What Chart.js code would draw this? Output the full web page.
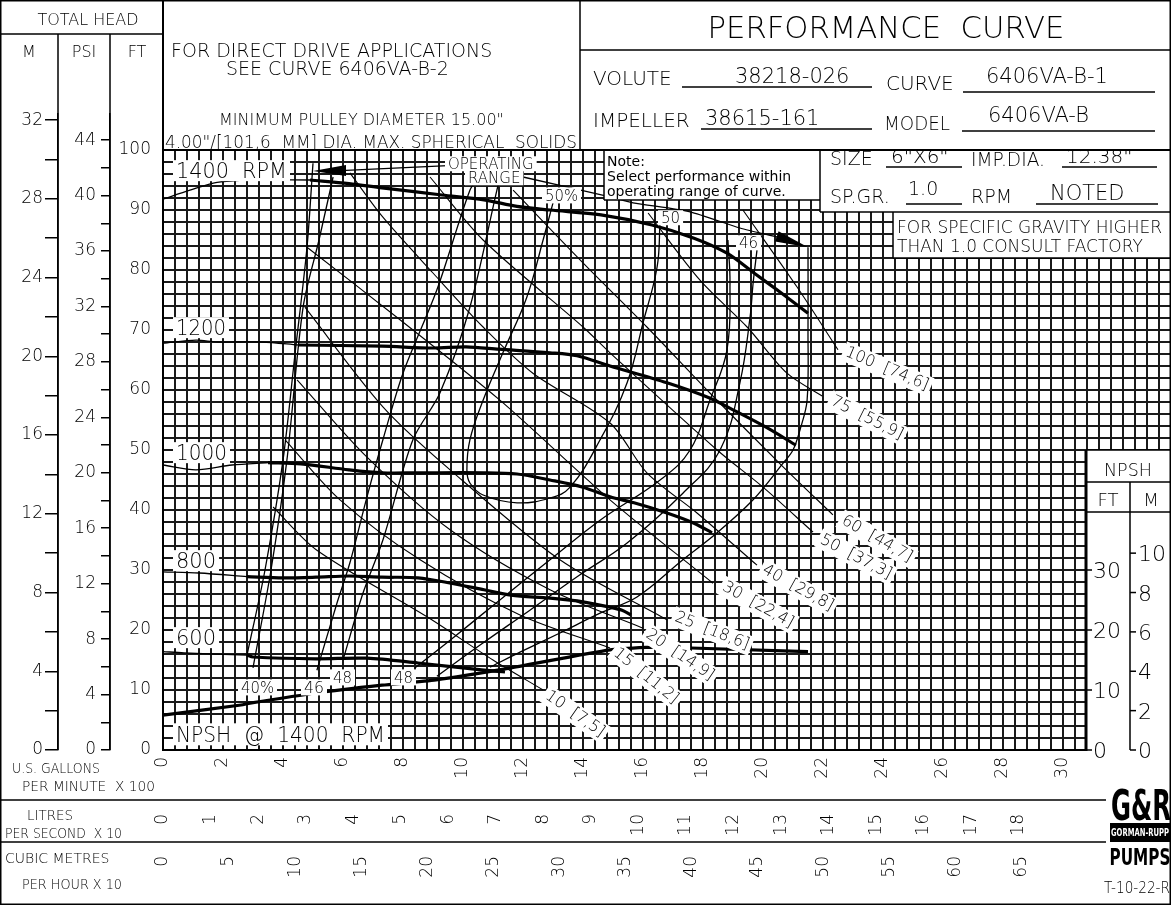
<!DOCTYPE html>
<html>
<head>
<meta charset="utf-8">
<script src="https://cdn.jsdelivr.net/npm/chart.js@4.4.1/dist/chart.umd.min.js"></script>
<style>
  html, body { margin: 0; padding: 0; background: #fff; }
  #wrap { width: 1171px; height: 905px; position: relative; }
</style>
</head>
<body>
<div id="wrap"><canvas id="curva"></canvas></div>
<script>
// flow in hundreds of US gpm, head in feet
var QMAX = 33.6;
var HMAX = 106;

// head curves per speed
var q1400 = [0, 0.9, 1.8, 2.9, 4.9, 6.2, 7.3, 9.3, 10.7, 11.8, 12.9, 14.6, 16.3, 17.7, 18.8, 19.7, 20.6, 21.5];
var h1400 = [91.8, 93.3, 94.6, 95.0, 95.0, 94.4, 93.7, 92.5, 91.7, 90.6, 90.0, 89.2, 87.5, 85.3, 82.8, 79.5, 76.2, 72.8];
var q1200 = [0, 1.1, 1.8, 3.3, 4.5, 7.3, 9.0, 10.1, 11.2, 12.9, 13.8, 14.9, 16.8, 18.2, 19.0, 20.1, 21.1];
var h1200 = [67.8, 68.3, 68.0, 68.0, 67.5, 67.3, 67.0, 67.2, 66.8, 66.2, 65.7, 64.0, 61.2, 58.7, 56.7, 53.8, 50.8];
var q1000 = [0, 1.1, 2.3, 3.5, 4.6, 6.2, 7.3, 8.5, 10.7, 11.8, 12.9, 14.0, 14.9, 15.7, 16.8, 17.7, 18.3];
var h1000 = [47.5, 46.7, 47.5, 47.9, 47.7, 46.7, 46.2, 46.2, 46.2, 46.0, 45.0, 43.8, 42.2, 41.2, 39.5, 37.8, 36.2];
var q800 = [0, 1.2, 2.8, 4.0, 5.1, 6.2, 7.3, 8.5, 9.6, 10.7, 11.6, 12.9, 14.0, 14.9, 15.3, 15.6];
var h800 = [29.7, 29.5, 28.9, 28.7, 28.8, 29.0, 28.8, 28.7, 27.8, 26.7, 25.8, 25.3, 24.7, 23.8, 23.3, 22.5];
var q600 = [0, 0.7, 2.8, 3.0, 5.1, 6.8, 8.5, 10.7, 11.4];
var h600 = [16.4, 16.2, 15.8, 15.5, 15.2, 15.3, 14.5, 13.3, 13.0];

// NPSH at 1400 rpm (ft)
var qNpsh = [0, 2.6, 2.9, 5.1, 7.3, 9.1, 11.6, 14.9, 16.5];
var hNpsh = [5.8, 7.5, 7.8, 9.5, 10.8, 11.7, 13.7, 16.7, 17.2];
var qNpsh2 = [17.6, 21.5];
var hNpsh2 = [17.0, 16.4];

// efficiency contours
var qOpLeft = [5.0, 4.8, 4.4, 4.0, 3.4, 2.8];
var hOpLeft = [97.8, 83.8, 66.0, 48.3, 30.0, 15.8];
var qE40 = [5.67, 5.2, 4.67, 4.13, 3.6, 3.0];
var hE40 = [95.5, 85.0, 73.8, 48.3, 30.0, 13.7];
var qE46L = [5.13, 5.8, 6.23, 6.8, 7.33, 8.0, 9.13, 10.23, 10.57];
var hE46L = [13.3, 24.5, 31.2, 42.2, 51.7, 62.8, 76.7, 93.3, 95.8];
var qE48L = [6.0, 6.67, 7.33, 8.33, 9.23, 10.23, 11.13, 11.23];
var hE48L = [15.0, 26.2, 35.0, 51.7, 59.5, 73.8, 93.3, 95.3];
var qE50 = [13.0, 12.67, 12.13, 11.33, 10.67, 10.23, 10.13, 10.23, 10.67, 11.8, 12.9, 13.57, 14.57, 15.47, 16.0, 16.47, 16.57];
var hE50 = [91.2, 85.0, 75.5, 66.2, 58.3, 51.7, 46.7, 44.5, 42.5, 41.2, 42.0, 43.8, 51.7, 61.2, 71.2, 80.5, 88.3];
var qE48R = [18.83, 18.9, 18.8, 18.23, 17.57, 16.57, 14.57, 12.9, 11.23, 9.57, 8.4];
var hE48R = [85.0, 77.8, 66.7, 58.3, 50.0, 45.0, 38.3, 31.7, 25.0, 18.3, 13.7];
var qE46R = [19.8, 19.67, 19.57, 19.23, 18.57, 17.33, 15.47, 13.9, 12.23, 10.57, 9.13];
var hE46R = [83.3, 77.8, 72.2, 61.2, 50.0, 42.8, 34.5, 29.2, 23.3, 17.5, 12.3];
var qOpRight = [21.5, 21.5, 21.47, 21.23, 21.0, 20.67, 19.67, 18.47, 17.33, 15.8, 14.57, 13.23, 11.9, 10.9];
var hOpRight = [83.8, 70.0, 58.3, 53.3, 50.0, 47.8, 41.7, 36.2, 31.7, 25.5, 22.8, 19.5, 16.3, 13.8];

// operating range leader lines
var qOpTopL = [9.5, 6.1];
var hOpTopL = [97.4, 96.6];
var qOpTopR = [12.0, 14.9, 15.67, 17.57, 19.23, 20.47];
var hOpTopR = [95.5, 92.2, 91.2, 89.7, 87.0, 85.5];

// power lines (hp)
var qHp100 = [19.33, 21.13, 22.5];
var hHp100 = [90.0, 77.2, 66.7];
var qHp75 = [16.17, 17.9, 19.47, 20.8, 21.97];
var hHp75 = [89.5, 78.3, 70.5, 62.8, 59.0];
var qHp60 = [11.67, 14.0, 16.13, 18.23, 20.67, 22.33];
var hHp60 = [93.3, 81.2, 70.5, 59.5, 47.2, 39.2];
var qHp50 = [8.9, 10.67, 14.0, 14.9, 18.47, 20.0, 21.67];
var hHp50 = [95.5, 85.0, 70.5, 66.2, 50.0, 43.8, 36.3];
var qHp40 = [6.23, 7.33, 9.0, 10.67, 12.33, 14.9, 16.13, 17.8, 19.8];
var hHp40 = [96.2, 88.8, 79.5, 70.5, 62.8, 54.5, 46.2, 39.5, 30.8];
var qHp30 = [4.8, 7.9, 11.23, 14.9, 18.33];
var hHp30 = [83.8, 71.7, 58.3, 41.7, 27.8];
var qHp25 = [4.73, 7.33, 9.57, 13.23, 16.8];
var hHp25 = [73.8, 57.2, 46.7, 31.7, 21.7];
var qHp20 = [4.47, 6.8, 9.57, 12.9, 16.0];
var hHp20 = [61.7, 48.8, 36.7, 26.7, 20.3];
var qHp15 = [4.07, 5.9, 8.57, 11.9, 14.9];
var hHp15 = [51.7, 41.7, 31.7, 22.5, 17.0];
var qHp10 = [3.67, 5.13, 8.8, 11.0, 12.67];
var hHp10 = [40.5, 33.3, 22.2, 15.0, 10.0];

// tick labels
var gpmLabels = [0, 2, 4, 6, 8, 10, 12, 14, 16, 18, 20, 22, 24, 26, 28, 30];
var lpsLabels = [0, 1, 2, 3, 4, 5, 6, 7, 8, 9, 10, 11, 12, 13, 14, 15, 16, 17, 18];
var cmhLabels = [0, 5, 10, 15, 20, 25, 30, 35, 40, 45, 50, 55, 60, 65];
var ftLabels = [0, 10, 20, 30, 40, 50, 60, 70, 80, 90, 100];
var psiLabels = [0, 4, 8, 12, 16, 20, 24, 28, 32, 36, 40, 44];
var mLabels = [0, 4, 8, 12, 16, 20, 24, 28, 32];
var npshFtLabels = [0, 10, 20, 30];
var npshMLabels = [0, 2, 4, 6, 8, 10];

var FONTE = "'DejaVu Sans', sans-serif";
var GROSSA = 3.2, FINA = 1.3;

Chart.defaults.font.family = FONTE;
Chart.defaults.font.weight = 200;
Chart.defaults.color = '#000';

function pts(q, h) {
  var a = [];
  for (var i = 0; i < q.length; i++) a.push({ x: q[i], y: h[i] });
  return a;
}
function linha(q, h, w, t) {
  return {
    data: pts(q, h), showLine: true, borderColor: '#000', borderWidth: w,
    pointRadius: 0, tension: (t === undefined ? 0.3 : t), fill: false
  };
}
// thin part up to index k, heavy part from k on
function rotacao(q, h, k) {
  return [
    linha(q.slice(0, k + 1), h.slice(0, k + 1), FINA),
    linha(q.slice(k), h.slice(k), GROSSA)
  ];
}
function rotulos(lista) {
  return function(v) {
    for (var i = 0; i < lista.length; i++) {
      if (Math.abs(lista[i] - v) < 1e-6) return String(lista[i]);
    }
    return '';
  };
}
// keep the plot area at fixed edges (no label overhang padding)
function semSobraX(h) {
  return function(s) { s.height = h; s.paddingLeft = 0; s.paddingRight = 0; };
}
function semSobraY(w) {
  return function(s) { s.width = w; s.paddingTop = 0; s.paddingBottom = 0; };
}

var conjuntos = []
  .concat(rotacao(q1400, h1400, 4))
  .concat(rotacao(q1200, h1200, 4))
  .concat(rotacao(q1000, h1000, 3))
  .concat(rotacao(q800, h800, 2))
  .concat(rotacao(q600, h600, 2))
  .concat([
    linha(qNpsh, hNpsh, GROSSA, 0.2),
    linha(qNpsh2, hNpsh2, GROSSA, 0),
    linha(qOpLeft, hOpLeft, FINA),
    linha(qE40, hE40, FINA),
    linha(qE46L, hE46L, FINA),
    linha(qE48L, hE48L, FINA),
    linha(qE50, hE50, FINA, 0.4),
    linha(qE48R, hE48R, FINA, 0.4),
    linha(qE46R, hE46R, FINA, 0.4),
    linha(qOpRight, hOpRight, FINA, 0.35),
    linha(qOpTopL, hOpTopL, FINA, 0),
    linha(qOpTopR, hOpTopR, FINA, 0.2),
    linha(qHp100, hHp100, 1.1),
    linha(qHp75, hHp75, 1.1),
    linha(qHp60, hHp60, 1.1),
    linha(qHp50, hHp50, 1.1),
    linha(qHp40, hHp40, 1.1),
    linha(qHp30, hHp30, 1.1),
    linha(qHp25, hHp25, 1.1),
    linha(qHp20, hHp20, 1.1),
    linha(qHp15, hHp15, 1.1),
    linha(qHp10, hHp10, 1.1)
  ]);

// drawing sheet: title block, boxes, labels
var folha = {
  id: 'folha',
  afterDraw: function(chart) {
    var c = chart.ctx;
    var sx = chart.scales.x, sy = chart.scales.y;
    function px(q) { return sx.getPixelForValue(q); }
    function py(h) { return sy.getPixelForValue(h); }
    function L(x1, y1, x2, y2, w) {
      c.lineWidth = w || 1.5;
      c.beginPath(); c.moveTo(x1, y1); c.lineTo(x2, y2); c.stroke();
    }
    function fonte(size, w) { c.font = (w || 200) + ' ' + size + 'px ' + FONTE; }
    function T(s, x, y, size, al, mw, w) {
      fonte(size, w);
      c.textAlign = al || 'left';
      c.textBaseline = 'alphabetic';
      if (mw) c.fillText(s, x, y, mw); else c.fillText(s, x, y);
    }
    // label knocked out of the grid
    function K(s, x, y, size, mw) {
      fonte(size);
      var w = c.measureText(s).width;
      if (mw && w > mw) w = mw;
      c.fillStyle = '#fff';
      c.fillRect(x - 3, y - size * 0.85, w + 6, size * 1.0);
      c.fillStyle = '#000';
      T(s, x, y, size, 'left', mw);
    }
    function R(s, cx, cy, ang, size, mw) {
      c.save();
      c.translate(cx, cy);
      c.rotate(ang * Math.PI / 180);
      fonte(size);
      var w = Math.min(c.measureText(s).width, mw);
      c.fillStyle = '#fff';
      c.fillRect(-w / 2 - 3, -size * 0.62, w + 6, size * 1.24);
      c.fillStyle = '#000';
      c.textAlign = 'center';
      c.textBaseline = 'middle';
      c.fillText(s, 0, 0, mw);
      c.restore();
    }

    c.save();
    c.strokeStyle = '#000';
    c.fillStyle = '#fff';
    c.fillRect(164, 0, 1007, 149);
    c.fillRect(604, 149, 216, 51);
    c.fillRect(820, 149, 351, 63);
    c.fillRect(893, 212, 278, 46);
    c.fillRect(1087, 450, 84, 301);
    c.fillStyle = '#000';

    // frame
    c.lineWidth = 1.5;
    c.strokeRect(0.75, 0.75, 1169.5, 903.5);
    L(0, 34, 163, 34);
    L(58, 34, 58, 750);
    L(110, 34, 110, 750);
    L(163, 0, 163, 750, 2);
    L(580, 0, 580, 150);
    L(580, 50, 1171, 50);
    L(163, 150, 1171, 150, 2);
    L(604, 150, 604, 200); L(604, 200, 820, 200);
    L(820, 150, 820, 212); L(820, 212, 1171, 212);
    L(893, 212, 893, 258); L(893, 258, 1171, 258);
    L(1086, 450, 1086, 751, 3);
    L(1086, 450, 1171, 450);
    L(1086, 482, 1171, 482);
    L(1086, 512, 1171, 512);
    L(1130, 482, 1130, 750);
    L(0, 800, 1106, 800);
    L(0, 842, 1106, 842);

    // head columns
    T('TOTAL HEAD', 88, 25, 16, 'center', 112);
    T('M', 29, 57, 16, 'center');
    T('PSI', 84, 57, 16, 'center');
    T('FT', 137, 57, 16, 'center');

    // notes
    T('FOR DIRECT DRIVE APPLICATIONS', 171, 57, 19, 'left', 381);
    T('SEE CURVE 6406VA-B-2', 226, 75, 19, 'left', 270);
    T('MINIMUM PULLEY DIAMETER 15.00"', 219, 125, 16, 'left', 300);
    T('4.00"/[101,6  MM] DIA. MAX. SPHERICAL  SOLIDS', 165, 148, 17, 'left', 412);

    // title block
    T('PERFORMANCE  CURVE', 886, 38, 31, 'center', 357);
    T('VOLUTE', 593, 85, 20, 'left', 80);
    L(682, 87, 872, 87, 1.3);
    T('38218-026', 735, 83, 21, 'left', 128);
    T('CURVE', 886, 90, 20, 'left', 68);
    L(963, 92, 1155, 92, 1.3);
    T('6406VA-B-1', 986, 83, 21, 'left', 147);
    T('IMPELLER', 593, 127, 20, 'left', 101);
    L(701, 129, 872, 129, 1.3);
    T('38615-161', 705, 125, 21, 'left', 127);
    T('MODEL', 884, 130, 20, 'left', 66);
    L(962, 131, 1155, 131, 1.3);
    T('6406VA-B', 988, 122, 21, 'left', 118);
    T('SIZE', 830, 165, 19, 'left', 44);
    L(886, 167, 962, 167, 1.3);
    T('6"X6"', 891, 163, 20, 'left', 71);
    T('IMP.DIA.', 971, 166, 19, 'left', 74);
    L(1062, 167, 1157, 167, 1.3);
    T('12.38"', 1066, 163, 20, 'left', 78);
    T('SP.GR.', 830, 203, 19, 'left', 75);
    L(906, 204, 962, 204, 1.3);
    T('1.0', 908, 195, 19, 'left', 37);
    T('RPM', 971, 203, 19, 'left', 44);
    L(1036, 204, 1158, 204, 1.3);
    T('NOTED', 1050, 200, 21, 'left', 87);
    T('FOR SPECIFIC GRAVITY HIGHER', 897, 233, 17, 'left', 271);
    T('THAN 1.0 CONSULT FACTORY', 897, 252, 17, 'left', 261);

    T('Note:', 607, 166, 14, 'left', 38, 'normal');
    T('Select performance within', 607, 181, 14, 'left', 208, 'normal');
    T('operating range of curve.', 607, 196, 14, 'left', 210, 'normal');

    // speed and contour labels
    K('1400  RPM', 176, 178, 21, 111);
    K('OPERATING', 448, 169, 15, 95);
    K('RANGE', 468, 183, 15, 55);
    K('50%', 545, 201, 16, 33);
    K('1200', 176, 335, 21, 50);
    K('1000', 176, 460, 21, 51);
    K('800', 176, 568, 21, 41);
    K('600', 176, 645, 21, 41);
    K('50', 661, 223, 15, 20);
    K('46', 739, 248, 15, 20);
    K('40%', 241, 693, 16, 33);
    K('46', 304, 693, 16, 20);
    K('48', 333, 683, 16, 19);
    K('48', 394, 683, 16, 19);
    K('NPSH  @  1400  RPM', 176, 742, 22, 209);

    // horsepower [kW] labels
    R('100  [74,6]', 887, 369, 22.8, 16, 100);
    R('75  [55,9]', 867, 418, 26.6, 16, 88);
    R('60  [44,7]', 877, 539, 29.5, 16, 90);
    R('50  [37,3]', 856, 557, 27.7, 16, 90);
    R('40  [29,8]', 798, 588, 29, 16, 90);
    R('30  [22,4]', 758, 605, 29, 16, 90);
    R('25  [18,6]', 712, 631, 21.5, 16, 86);
    R('20  [14,9]', 680, 655, 34, 16, 86);
    R('15  [11,2]', 646, 676, 39, 16, 82);
    R('10  [7,5]', 575, 714, 35, 16, 78);

    // operating range arrows
    var tx = px(qOpLeft[0]), ty = py(96.5);
    c.beginPath();
    c.moveTo(tx, ty); c.lineTo(tx + 33, ty - 6); c.lineTo(tx + 33, ty + 5); c.closePath(); c.fill();
    var ax = px(qOpRight[0]), ay = py(hOpRight[0]);
    var bx = px(qOpTopR[qOpTopR.length - 1]), by = py(hOpTopR[hOpTopR.length - 1]);
    var an = Math.atan2(ay - by, ax - bx);
    c.save();
    c.translate(ax, ay); c.rotate(an);
    c.beginPath(); c.moveTo(0, 0); c.lineTo(-33, -6); c.lineTo(-33, 5); c.closePath(); c.fill();
    c.restore();

    // NPSH scale
    var i, yy;
    for (i = 0; i < npshFtLabels.length; i++) {
      yy = py(npshFtLabels[i]);
      L(1086, yy, 1092, yy, 1.5);
      T(String(npshFtLabels[i]), 1093, yy + 8, 22, 'left', 30);
    }
    for (i = 0; i < npshMLabels.length; i++) {
      yy = py(npshMLabels[i] / 0.3048);
      L(1130, yy, 1136, yy, 1.5);
      T(String(npshMLabels[i]), 1138, yy + 8, 22, 'left', 31);
    }
    T('NPSH', 1128, 476, 18, 'center', 48);
    T('FT', 1108, 506, 18, 'center');
    T('M', 1151, 506, 18, 'center');

    // flow units
    T('U.S. GALLONS', 12, 773, 14, 'left', 88);
    T('PER MINUTE  X 100', 22, 791, 14, 'left', 133);
    T('LITRES', 27, 820, 14, 'left', 46);
    T('PER SECOND  X 10', 5, 838, 14, 'left', 117);
    T('CUBIC METRES', 5, 863, 14, 'left', 107);
    T('PER HOUR X 10', 22, 889, 14, 'left', 100);

    // maker mark
    T('G&R', 1141, 820, 42, 'center', 60, 'bold');
    c.fillRect(1110, 823, 61, 19);
    c.fillStyle = '#fff';
    T('GORMAN-RUPP', 1140, 836, 10, 'center', 58, 'bold');
    c.fillStyle = '#000';
    T('PUMPS', 1140, 865, 23, 'center', 61, 'bold');
    T('T-10-22-R', 1104, 893, 15, 'left', 66);
    c.restore();
  }
};

var fonteEixo = { family: FONTE, size: 17, weight: 200 };

new Chart(document.getElementById('curva'), {
  type: 'scatter',
  data: { datasets: conjuntos },
  options: {
    responsive: true,
    maintainAspectRatio: false,
    animation: false,
    events: [],
    layout: { padding: { top: 114, left: 0, right: 0, bottom: 0 } },
    plugins: { legend: { display: false }, tooltip: { enabled: false } },
    scales: {
      x: {
        type: 'linear', position: 'bottom', weight: 0, min: 0, max: QMAX,
        ticks: {
          stepSize: 0.4, autoSkip: false, includeBounds: false,
          minRotation: 90, maxRotation: 90, padding: 7,
          font: fonteEixo, color: '#000', callback: rotulos(gpmLabels)
        },
        grid: { color: '#1a1a1a', lineWidth: 2, drawTicks: false },
        border: { color: '#000', width: 2 },
        afterFit: semSobraX(50)
      },
      lps: {
        type: 'linear', position: 'bottom', weight: 1, min: 0, max: QMAX * 0.63090,
        ticks: {
          stepSize: 1, autoSkip: false, includeBounds: false,
          minRotation: 90, maxRotation: 90, padding: 6,
          font: fonteEixo, color: '#000', callback: rotulos(lpsLabels)
        },
        grid: { display: false },
        border: { display: false },
        afterFit: semSobraX(42)
      },
      cmh: {
        type: 'linear', position: 'bottom', weight: 2, min: 0, max: QMAX * 2.27125,
        ticks: {
          stepSize: 5, autoSkip: false, includeBounds: false,
          minRotation: 90, maxRotation: 90, padding: 6,
          font: fonteEixo, color: '#000', callback: rotulos(cmhLabels)
        },
        grid: { display: false },
        border: { display: false },
        afterFit: semSobraX(63)
      },
      y: {
        type: 'linear', position: 'left', weight: 0, min: 0, max: HMAX,
        ticks: {
          stepSize: 2, autoSkip: false, includeBounds: false, padding: 12,
          font: fonteEixo, color: '#000', callback: rotulos(ftLabels)
        },
        grid: { color: '#1a1a1a', lineWidth: 2, drawTicks: false },
        border: { color: '#000', width: 2 },
        afterFit: semSobraY(53)
      },
      psi: {
        type: 'linear', position: 'left', weight: 1, min: 0, max: HMAX / 2.31,
        ticks: {
          stepSize: 2, autoSkip: false, includeBounds: false, padding: 5,
          font: fonteEixo, color: '#000', callback: rotulos(psiLabels)
        },
        grid: { drawOnChartArea: false, drawTicks: true, tickLength: 9, color: '#000', lineWidth: 1.5 },
        border: { color: '#000', width: 1.5 },
        afterFit: semSobraY(52)
      },
      m: {
        type: 'linear', position: 'left', weight: 2, min: 0, max: HMAX * 0.3048,
        ticks: {
          stepSize: 2, autoSkip: false, includeBounds: false, padding: 2,
          font: fonteEixo, color: '#000', callback: rotulos(mLabels)
        },
        grid: { drawOnChartArea: false, drawTicks: true, tickLength: 13, color: '#000', lineWidth: 1.5 },
        border: { color: '#000', width: 1.5 },
        afterFit: semSobraY(58)
      }
    }
  },
  plugins: [folha]
});
</script>
</body>
</html>
